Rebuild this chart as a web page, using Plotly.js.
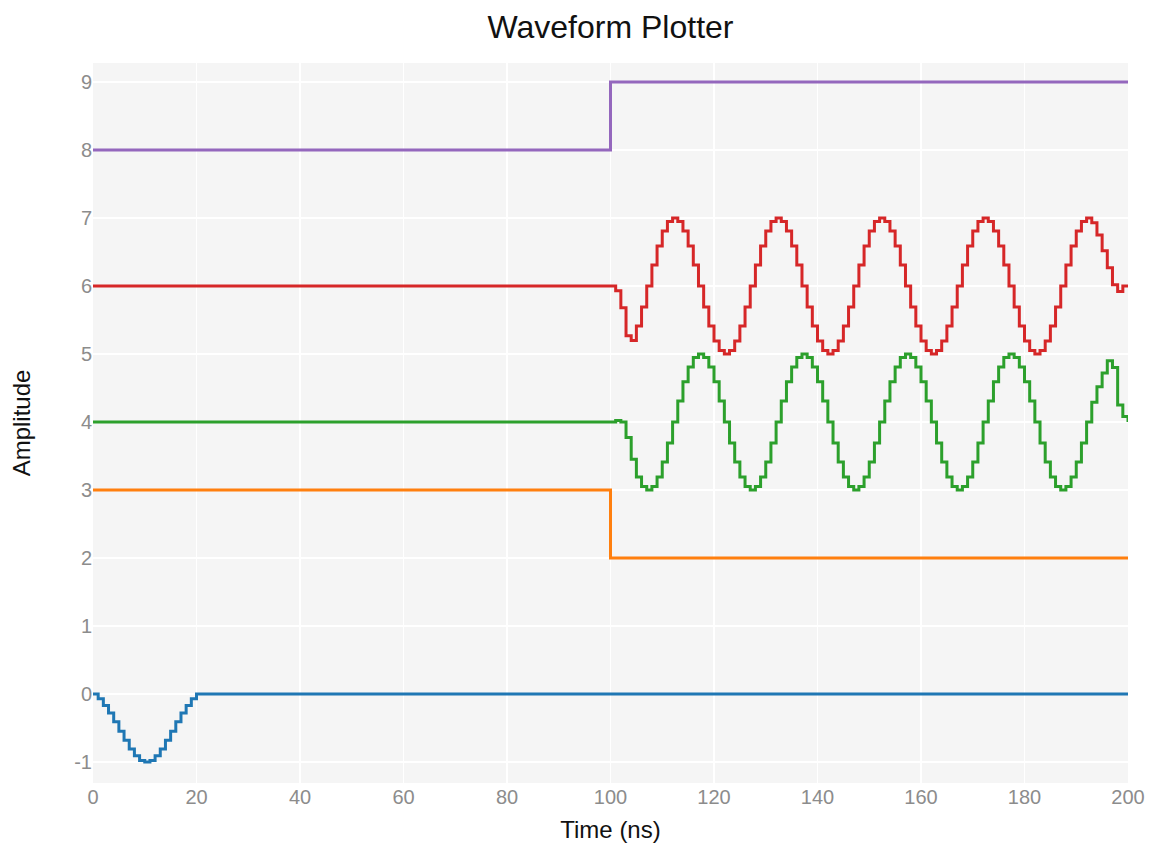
<!DOCTYPE html>
<html>
<head>
<meta charset="utf-8">
<script src="https://cdn.plot.ly/plotly-3.0.1.min.js"></script>
<style>html,body{margin:0;padding:0;background:#fff;}#chart{width:1154px;height:848px;}</style>
</head>
<body>
<div id="chart"></div>
<script>
// Sample times (ns) — 1 ns grid
function grid(a, b) { const r = []; for (let t = a; t <= b; t++) r.push(t); return r; }

// Series values
const blueTimes = grid(0, 20).concat([200]);
const blueValues = [0, -0.07, -0.17, -0.28, -0.41, -0.55, -0.68, -0.81, -0.91, -0.98, -1.00,
  -0.98, -0.91, -0.81, -0.68, -0.55, -0.41, -0.28, -0.17, -0.07, 0, 0];

const orangeTimes = [0, 100, 200];
const orangeValues = [3, 2, 2];

const purpleTimes = [0, 100, 200];
const purpleValues = [8, 9, 9];

const greenTimes = [0].concat(grid(100, 200));
const greenValues = [4.00,
  4.00, 4.02, 4.00, 3.77, 3.45, 3.19, 3.05, 3.00, 3.05, 3.19,
  3.41, 3.69, 4.00, 4.31, 4.59, 4.81, 4.95, 5.00, 4.95, 4.81,
  4.59, 4.31,
  4.00, 3.69, 3.41, 3.19, 3.05, 3.00, 3.05, 3.19, 3.41, 3.69, 4.00, 4.31, 4.59, 4.81, 4.95, 5.00, 4.95, 4.81, 4.59, 4.31,
  4.00, 3.69, 3.41, 3.19, 3.05, 3.00, 3.05, 3.19, 3.41, 3.69, 4.00, 4.31, 4.59, 4.81, 4.95, 5.00, 4.95, 4.81, 4.59, 4.31,
  4.00, 3.69, 3.41, 3.19, 3.05, 3.00, 3.05, 3.19, 3.41, 3.69, 4.00, 4.31, 4.59, 4.81, 4.95, 5.00, 4.95, 4.81, 4.59, 4.31,
  4.00, 3.69, 3.41, 3.19, 3.05, 3.00, 3.05, 3.19, 3.41, 3.69,
  4.00, 4.29, 4.52, 4.72, 4.90, 4.80, 4.25, 4.08, 4.00];

const redTimes = [0].concat(grid(100, 200));
const redValues = [6.00,
  6.00, 5.93, 5.68, 5.27, 5.20, 5.41, 5.69, 6.00, 6.31, 6.59,
  6.81, 6.95, 7.00, 6.95, 6.81, 6.59, 6.31, 6.00, 5.69, 5.41,
  5.19, 5.05,
  5.00, 5.05, 5.19, 5.41, 5.69, 6.00, 6.31, 6.59, 6.81, 6.95, 7.00, 6.95, 6.81, 6.59, 6.31, 6.00, 5.69, 5.41, 5.19, 5.05,
  5.00, 5.05, 5.19, 5.41, 5.69, 6.00, 6.31, 6.59, 6.81, 6.95, 7.00, 6.95, 6.81, 6.59, 6.31, 6.00, 5.69, 5.41, 5.19, 5.05,
  5.00, 5.05, 5.19, 5.41, 5.69, 6.00, 6.31, 6.59, 6.81, 6.95, 7.00, 6.95, 6.81, 6.59, 6.31, 6.00, 5.69, 5.41, 5.19, 5.05,
  5.00, 5.05, 5.19, 5.41, 5.69, 6.00, 6.31, 6.59, 6.81, 6.95,
  7.00, 6.93, 6.75, 6.52, 6.27, 6.02, 5.92, 6.00, 6.00];

const seriesNames = ['Ch0', 'Ch1', 'Ch2', 'Ch3', 'Ch4'];
const seriesColors = ['#1f77b4', '#ff7f0e', '#2ca02c', '#d62728', '#9467bd'];
const xTicks = [0, 20, 40, 60, 80, 100, 120, 140, 160, 180, 200];
const yTicks = [-1, 0, 1, 2, 3, 4, 5, 6, 7, 8, 9];

const allX = [blueTimes, orangeTimes, greenTimes, redTimes, purpleTimes];
const allY = [blueValues, orangeValues, greenValues, redValues, purpleValues];

const traces = allX.map((xs, i) => ({
  x: xs, y: allY[i], name: seriesNames[i], type: 'scatter', mode: 'lines',
  line: { shape: 'hv', color: seriesColors[i], width: 3 }
}));

const FONT = '"Liberation Sans", Arial, Helvetica, sans-serif';
const layout = {
  width: 1154, height: 848,
  margin: { l: 93, r: 26, t: 63, b: 65 },
  paper_bgcolor: '#ffffff',
  plot_bgcolor: '#f5f5f5',
  showlegend: false,
  font: { family: FONT, color: '#222' },
  title: { text: 'Waveform Plotter', x: 0.5, xref: 'paper', xanchor: 'center',
    y: 0.968, yref: 'container', yanchor: 'middle',
    font: { family: FONT, size: 32, color: '#111' } },
  xaxis: {
    range: [0, 200], tickvals: xTicks, ticktext: xTicks.map(String),
    showgrid: true, gridcolor: '#ffffff', gridwidth: 1.5, zeroline: false,
    showline: false, ticks: '',
    tickfont: { family: FONT, size: 20, color: '#8c8c8c' },
    title: { text: 'Time (ns)', font: { family: FONT, size: 24, color: '#111' }, standoff: 14 }
  },
  yaxis: {
    range: [-1.31, 9.28], tickvals: yTicks, ticktext: yTicks.map(String),
    showgrid: true, gridcolor: '#ffffff', gridwidth: 1.5, zeroline: false,
    showline: false, ticks: '',
    tickfont: { family: FONT, size: 20, color: '#8c8c8c' },
    title: { text: 'Amplitude', font: { family: FONT, size: 24, color: '#111' }, standoff: 36 }
  }
};

Plotly.newPlot('chart', traces, layout, { displayModeBar: false, staticPlot: true });
</script>
</body>
</html>
